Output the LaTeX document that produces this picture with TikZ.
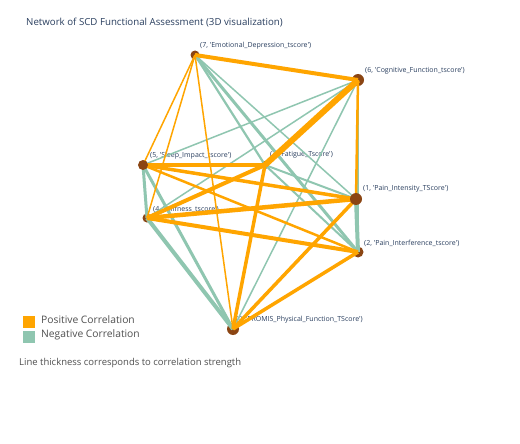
\documentclass[tikz,border=0pt]{standalone}
\usepackage{fontspec}
\newfontfamily\osans{Open Sans}
\definecolor{poscol}{RGB}{255,165,0}
\definecolor{negcol}{RGB}{143,198,176}
\definecolor{nodecol}{RGB}{139,69,19}
\definecolor{titlecol}{RGB}{42,63,95}
\definecolor{legcol}{RGB}{80,80,80}
\pgfdeclarelayer{edges}
\pgfdeclarelayer{top}
\pgfsetlayers{main,edges,top}
\begin{document}
\begin{tikzpicture}[x=1pt,y=-1pt,
  lbl/.style={anchor=west, inner sep=0pt, text=titlecol, font=\osans\fontsize{7}{8}\selectfont},
  vert/.style={circle, fill=nodecol, inner sep=0pt, minimum size=#1},
  pos/.style={draw=poscol, line width=#1},
  neg/.style={draw=negcol, line width=#1},
  legtxt/.style={anchor=west, inner sep=0pt, text=legcol, font=\osans\fontsize{10.3}{12}\selectfont}]
\useasboundingbox (0,0) rectangle (520,444);
\fill[white] (0,0) rectangle (520,444);

\node[anchor=west, inner sep=0pt, text=titlecol, font=\osans\fontsize{9.7}{11}\selectfont] (title) at (26,23) {Network of SCD Functional Assessment (3D visualization)};

% node labels
\node[lbl] (l7) at (200,46) {(7, 'Emotional\_Depression\_tscore')};
\node[lbl] (l6) at (365,71) {(6, 'Cognitive\_Function\_tscore')};
\node[lbl] (l5) at (150,156) {(5, 'Sleep\_Impact\_tscore')};
\node[lbl] (l3) at (270,155) {(3, 'Fatigue\_Tscore')};
\node[lbl] (l1) at (363,189) {(1, 'Pain\_Intensity\_TScore')};
\node[lbl] (l4) at (153,209) {(4, 'Stiffness\_tscore')};
\node[lbl] (l2) at (364,243) {(2, 'Pain\_Interference\_tscore')};
\node[lbl] (l0) at (236,320) {(0, 'PROMIS\_Physical\_Function\_TScore')};

% vertices
\node[vert=9pt] (n7) at (195,55) {};
\node[vert=12pt] (n6) at (358,80) {};
\node[vert=9pt] (n4) at (147,218) {};
\node[vert=8pt, fill=nodecol!60!black] (n3) at (265,165) {};
\node[vert=11pt] (n2) at (358,252) {};
\node[vert=12pt] (n0) at (233,329) {};
\begin{pgfonlayer}{top}
\node[vert=12pt] (n1) at (356,199) {};
\node[vert=10pt] (n5) at (143,165) {};
\end{pgfonlayer}

\begin{pgfonlayer}{edges}
% negative correlations
\draw[neg=2.2] (n7.center) -- (n3.center);
\draw[neg=1.5] (n7.center) -- (n1.center);
\draw[neg=3] (n7.center) -- (n2.center);
\draw[neg=1.5] (n6.center) -- (n5.center);
\draw[neg=1.5] (n6.center) -- (n4.center);
\draw[neg=2] (n6.center) -- (n2.center);
\draw[neg=1.5] (n6.center) -- (n0.center);
\draw[neg=3] (n5.center) -- (n4.center);
\draw[neg=3] (n5.center) -- (n0.center);
\draw[neg=2] (n3.center) -- (n1.center);
\draw[neg=2] (n3.center) -- (n2.center);
\draw[neg=4] (n1.center) -- (n2.center);
\draw[neg=4] (n4.center) -- (n0.center);
% positive correlations
\draw[pos=4] (n7.center) -- (n6.center);
\draw[pos=1.5] (n7.center) -- (n5.center);
\draw[pos=1.5] (n7.center) -- (n4.center);
\draw[pos=1.5] (n7.center) -- (n0.center);
\draw[pos=6] (n6.center) -- (n3.center);
\draw[pos=2.5] (n6.center) -- (n1.center);
\draw[pos=4] (n5.center) -- (n3.center);
\draw[pos=3.5] (n5.center) -- (n1.center);
\draw[pos=2.5] (n5.center) -- (n2.center);
\draw[pos=4] (n3.center) -- (n4.center);
\draw[pos=3.5] (n3.center) -- (n0.center);
\draw[pos=4.5] (n1.center) -- (n4.center);
\draw[pos=3.5] (n1.center) -- (n0.center);
\draw[pos=4] (n4.center) -- (n2.center);
\draw[pos=3.5] (n2.center) -- (n0.center);
\end{pgfonlayer}

% legend
\node[fill=poscol, minimum size=12pt, inner sep=0pt] (kpos) at (28.5,321.5) {};
\node[fill=negcol, minimum size=12pt, inner sep=0pt] (kneg) at (28.5,337) {};
\node[legtxt] (tpos) at (41,320) {Positive Correlation};
\node[legtxt] (tneg) at (41,334.5) {Negative Correlation};
\node[legtxt, font=\osans\fontsize{9.5}{11}\selectfont] (note) at (19,363) {Line thickness corresponds to correlation strength};
\end{tikzpicture}
\end{document}
